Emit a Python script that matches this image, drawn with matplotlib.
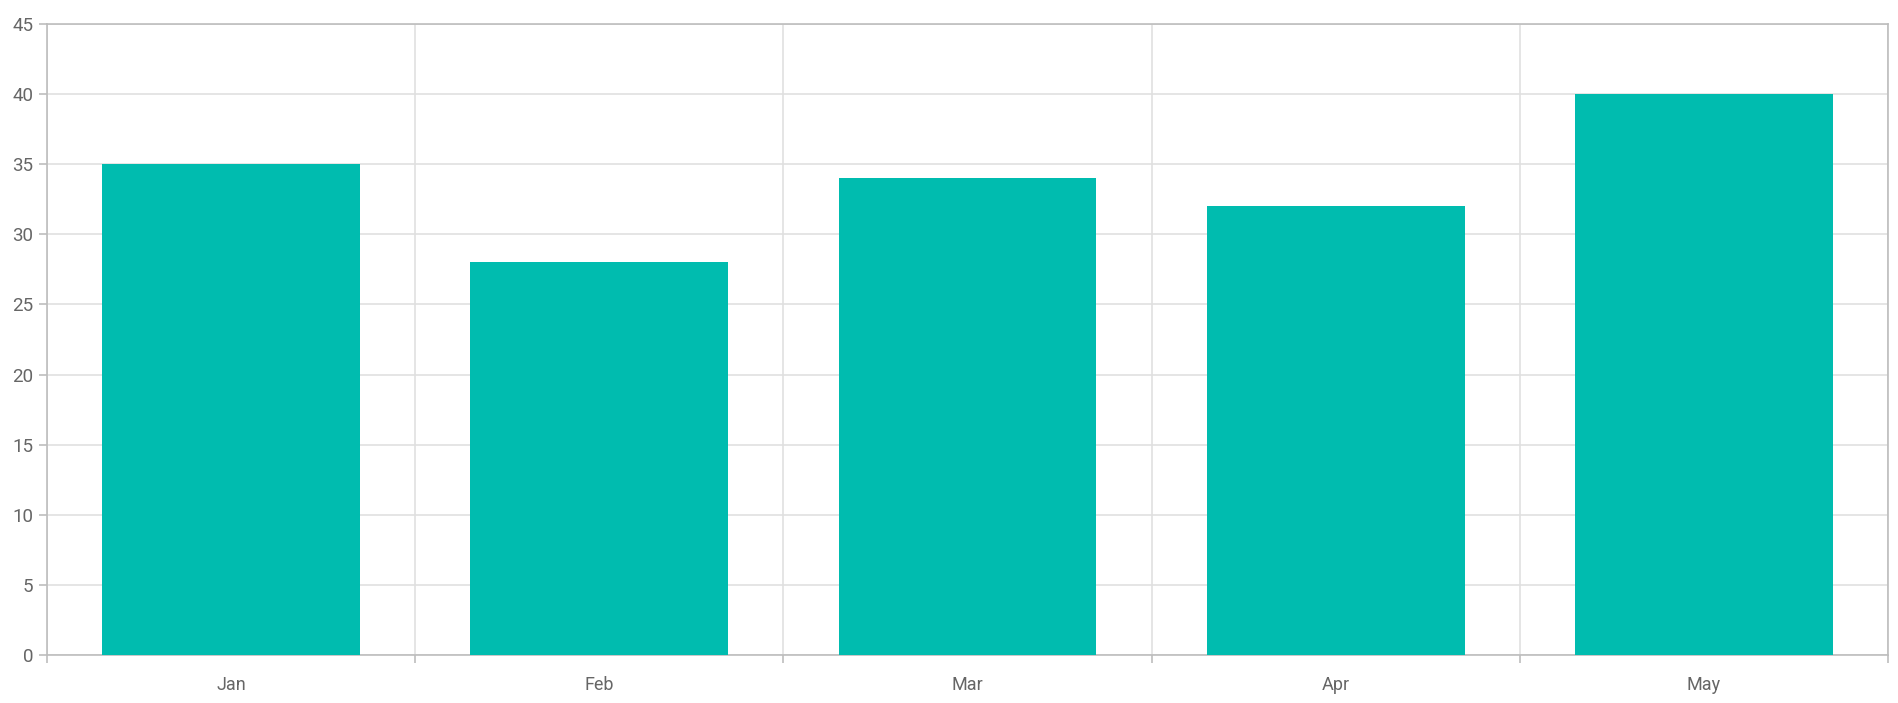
import matplotlib
matplotlib.use("Agg")
import matplotlib.pyplot as plt
import numpy as np

categories = ["Jan", "Feb", "Mar", "Apr", "May"]
values = [35, 28, 34, 32, 40]
y_ticks = [0, 5, 10, 15, 20, 25, 30, 35, 40, 45]

plt.rcParams['font.family'] = ['Roboto', 'DejaVu Sans']

W, H = 1899, 703
fig = plt.figure(figsize=(W / 100, H / 100), dpi=100)
ax = fig.add_axes([47 / W, (H - 655) / H, (1888 - 47) / W, (655 - 24) / H])

x = np.arange(len(categories))
ax.bar(x, values, width=0.7, color="#00BCAF", zorder=3)

ax.set_xlim(-0.5, len(categories) - 0.5)
ax.set_ylim(0, 45)
ax.set_yticks(y_ticks)
ax.set_xticks(x)
ax.set_xticklabels(categories)
ax.set_xticks(np.arange(len(categories) + 1) - 0.5, minor=True)

ax.grid(axis="y", which="major", color="#e0e0e0", linewidth=1.2, zorder=0)
ax.grid(axis="x", which="minor", color="#e0e0e0", linewidth=1.2, zorder=0)

for side in ["left", "bottom", "top", "right"]:
    ax.spines[side].set_color("#bdbdbd")
    ax.spines[side].set_linewidth(1.2)

ax.tick_params(axis="y", length=6, width=1.2, color="#bdbdbd", labelcolor="#666666",
               labelsize=13.5, pad=4)
ax.tick_params(axis="x", which="major", length=0, labelcolor="#666666", labelsize=13, pad=15)
ax.tick_params(axis="x", which="minor", length=6, width=1.2, color="#bdbdbd")

fig.savefig("out.png", dpi=100)
